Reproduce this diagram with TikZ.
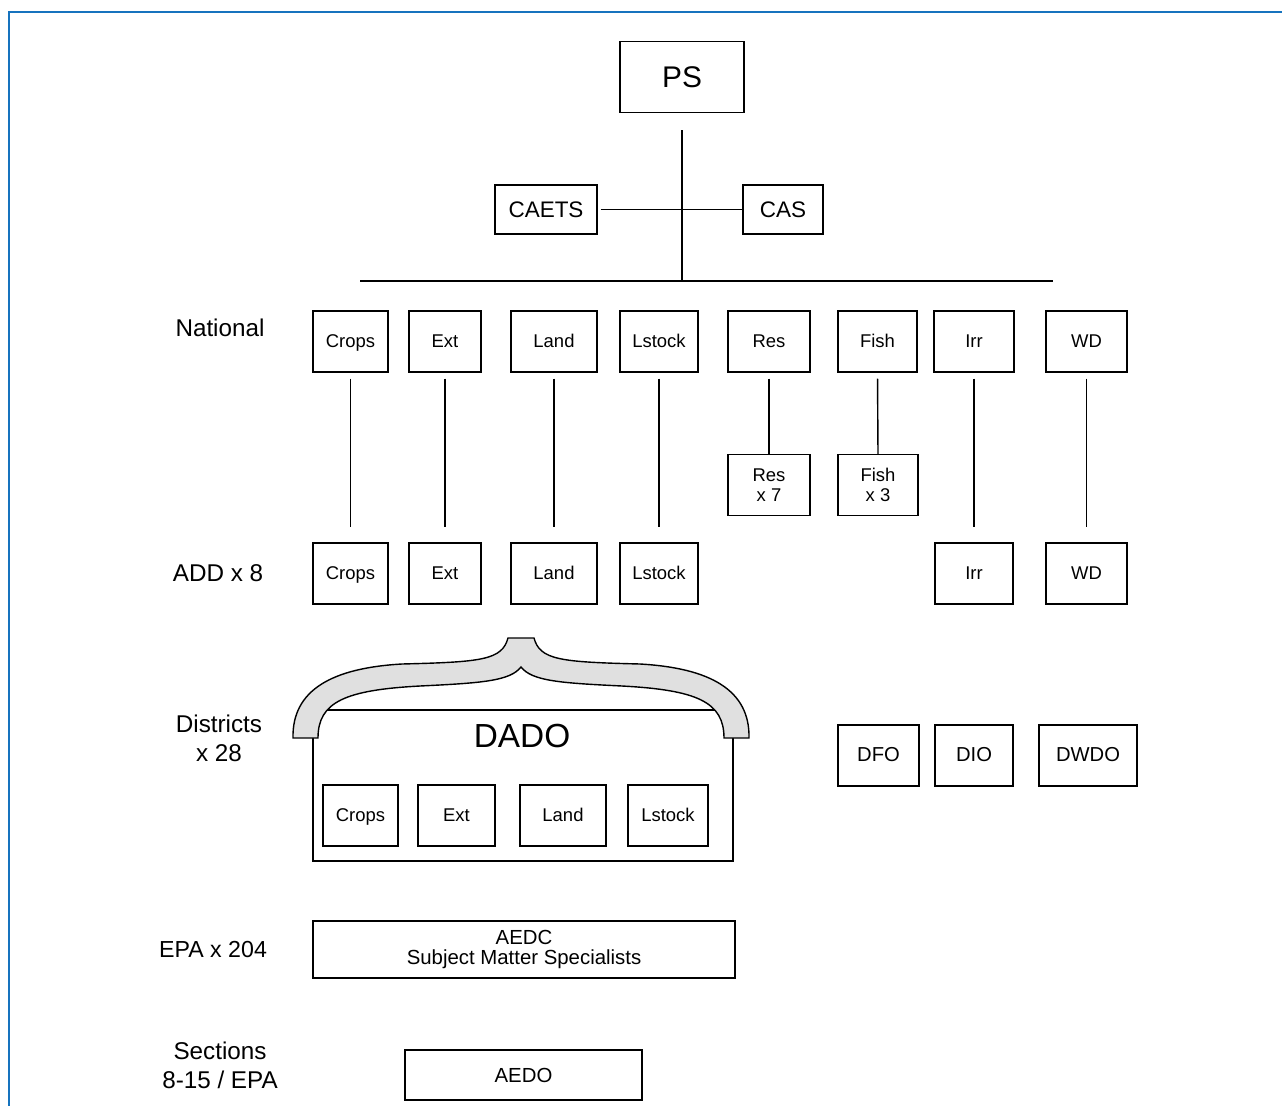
\documentclass[tikz,border=0pt]{standalone}
\usepackage{fontspec}
\setmainfont{Liberation Sans}
\usepackage{xcolor}
\definecolor{framblue}{RGB}{22,115,190}
\definecolor{bracegrey}{RGB}{224,224,224}
\usetikzlibrary{positioning}

\begin{document}
\begin{tikzpicture}[
  x=0.02cm, y=-0.02cm,
  line width=0.8pt,
  basebox/.style = {draw, align=center, inner sep=0pt,
                minimum height=1.22cm, font=\fontsize{10.5}{12.5}\selectfont},
  box/.style = {basebox, text height=0.8em, text depth=0.08em},
  bigbox/.style = {draw, align=center, inner sep=0pt, font=\fontsize{11.6}{13}\selectfont},
  lvl/.style = {align=center, font=\fontsize{13.8}{16.5}\selectfont},
  conn/.style = {line width=0.8pt},
]
\useasboundingbox (0,0) rectangle (1282,1106);
\draw[framblue, line width=1.7pt] (9,1106) -- (9,12) -- (1282,12);

\node[bigbox, minimum width=2.48cm, minimum height=1.42cm, font=\fontsize{17}{20}\selectfont] at (682,77) (ps) {PS};
\node[bigbox, minimum width=2.04cm, minimum height=0.98cm, font=\fontsize{12.8}{15}\selectfont] at (546,209.5) (caets) {CAETS};
\node[bigbox, minimum width=1.6cm, minimum height=0.98cm, font=\fontsize{12.8}{15}\selectfont] at (783,209.5) (cas) {CAS};
\coordinate (bar)  at (682,281);
\coordinate (barl) at (360,281);
\coordinate (barr) at (1053,281);

\draw[conn, shorten <=0.34cm] (ps.south) -- (bar);
\draw[conn, shorten <=0.06cm] (caets.east) -- (cas.west);
\draw[conn] (barl) -- (barr);

\node[lvl] at (220,328) (lnat) {National};
\node[box, minimum width=1.5cm]  at (350.5,341.5) (ncrops)  {Crops};
\node[box, minimum width=1.44cm] at (445,341.5)   (next)    {Ext};
\node[box, minimum width=1.72cm] at (554,341.5)   (nland)   {Land};
\node[box, minimum width=1.56cm] at (659,341.5)   (nlstock) {Lstock};
\node[box, minimum width=1.64cm] at (769,341.5)   (nres)    {Res};
\node[box, minimum width=1.58cm] at (877.5,341.5) (nfish)   {Fish};
\node[box, minimum width=1.6cm]  at (974,341.5)   (nirr)    {Irr};
\node[box, minimum width=1.62cm] at (1086.5,341.5) (nwd)    {WD};

\node[basebox, minimum width=1.64cm, font=\fontsize{10.5}{11}\selectfont] at (769,485) (resx) {Res\\x 7};
\node[basebox, minimum width=1.6cm, font=\fontsize{10.5}{11}\selectfont]  at (878,485) (fishx) {Fish\\x 3};

\node[lvl] at (218,573) (ladd) {ADD x 8};
\node[box, minimum width=1.5cm]  at (350.5,573.5) (acrops)  {Crops};
\node[box, minimum width=1.44cm] at (445,573.5)   (aext)    {Ext};
\node[box, minimum width=1.72cm] at (554,573.5)   (aland)   {Land};
\node[box, minimum width=1.56cm] at (659,573.5)   (alstock) {Lstock};
\node[box, minimum width=1.56cm] at (974,573.5)   (airr)    {Irr};
\node[box, minimum width=1.62cm] at (1086.5,573.5) (awd)    {WD};

\foreach \u in {crops, ext, land, lstock, irr, wd} {
  \draw[conn, shorten <=0.12cm, shorten >=0.3cm] (n\u.south) -- (a\u.north);
}
\draw[conn, shorten <=0.12cm] (nres.south) -- (resx.north);
\draw[conn, shorten <=0.12cm] (nfish.south) -- (fishx.north);

\node[lvl] at (219,738) (ldist) {Districts\\x 28};
\node[draw, minimum width=8.4cm, minimum height=3.02cm] at (523,785.5) (dado) {};
\filldraw[fill=bracegrey, line width=0.8pt]
  (293,738) -- (318,738)
  .. controls (318,702) and (345,690) .. (420,686)
  .. controls (482,683) and (510,681) .. (521,667)
  .. controls (532,681) and (560,683) .. (622,686)
  .. controls (697,690) and (724,702) .. (724,738)
  -- (749,738)
  .. controls (750,690) and (710,668) .. (640,664)
  .. controls (560,662) and (540,660) .. (534,638)
  -- (508,638)
  .. controls (502,660) and (482,662) .. (402,664)
  .. controls (332,668) and (292,690) .. (293,738) -- cycle;
\node[font=\fontsize{19}{22}\selectfont] at (522,736) (dadotxt) {DADO};
\node[box, minimum width=1.5cm]  at (360.5,815.5) (dcrops)  {Crops};
\node[box, minimum width=1.54cm] at (456.5,815.5) (dext)    {Ext};
\node[box, minimum width=1.72cm] at (563,815.5)   (dland)   {Land};
\node[box, minimum width=1.6cm]  at (668,815.5)   (dlstock) {Lstock};

\node[box, minimum width=1.62cm, font=\fontsize{11.5}{13}\selectfont] at (878.5,755.5) (dfo)  {DFO};
\node[box, minimum width=1.56cm, font=\fontsize{11.5}{13}\selectfont] at (974,755.5)   (dio)  {DIO};
\node[box, minimum width=1.96cm, font=\fontsize{11.5}{13}\selectfont] at (1088,755.5)  (dwdo) {DWDO};

\node[lvl, font=\fontsize{13.2}{16}\selectfont] at (213,950) (lepa) {EPA x 204};
\node[bigbox, minimum width=8.44cm, minimum height=1.14cm, font=\fontsize{11.6}{11.5}\selectfont] at (524,949.5) (aedc) {AEDC\\Subject Matter Specialists};

\node[lvl] at (220,1065) (lsec) {Sections\\8-15 / EPA};
\node[bigbox, minimum width=4.74cm, minimum height=1.0cm] at (523.5,1075) (aedo) {AEDO};
\end{tikzpicture}
\end{document}
